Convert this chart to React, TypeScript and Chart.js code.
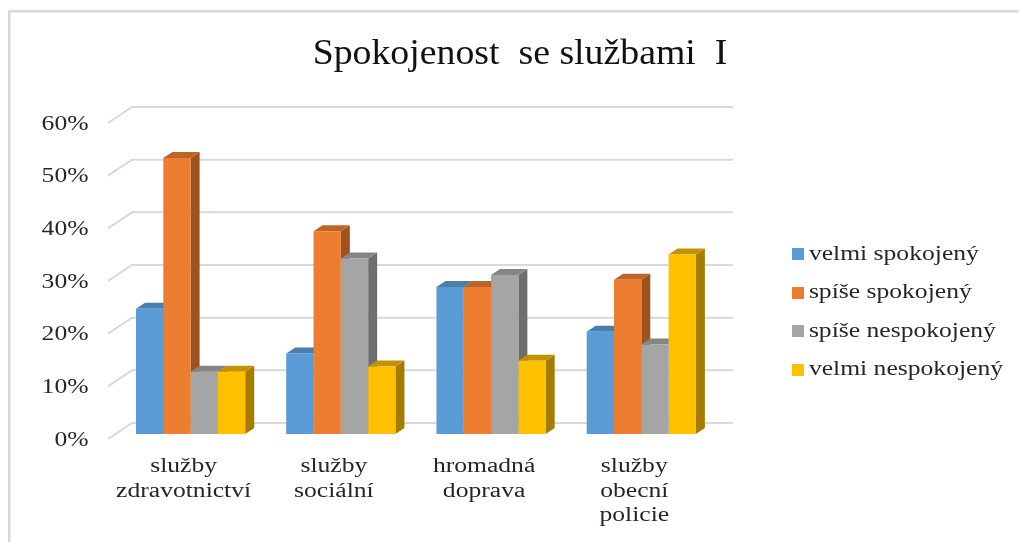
import React, { useEffect, useRef } from "react";
import { Chart, registerables } from "chart.js";

Chart.register(...registerables);

const categories = [
  ["služby", "zdravotnictví"],
  ["služby", "sociální"],
  ["hromadná", "doprava"],
  ["služby", "obecní", "policie"],
];
const seriesNames = ["velmi spokojený", "spíše spokojený", "spíše nespokojený", "velmi nespokojený"];
const velmiSpokojeny = [23.8, 15.3, 27.9, 19.4];
const spiseSpokojeny = [52.4, 38.5, 27.9, 29.3];
const spiseNespokojeny = [11.8, 33.3, 30.2, 17.0];
const velmiNespokojeny = [11.8, 12.8, 13.9, 34.1];
const seriesValues = [velmiSpokojeny, spiseSpokojeny, spiseNespokojeny, velmiNespokojeny];
const frontColors = ["#5B9BD5", "#ED7D31", "#A5A5A5", "#FFC000"];
const topColors = ["#4A7EAD", "#BF6427", "#858585", "#C49400"];
const sideColors = ["#41719C", "#9E531F", "#6E6E6E", "#A67C00"];
const FONT = '"Liberation Serif", "Times New Roman", serif';
const TEXT = "#262626";
const GRID = "#D9D9D9";

const swatch = (color: string) => {
  const c = document.createElement("canvas");
  c.width = 12;
  c.height = 12;
  const x = c.getContext("2d")!;
  x.fillStyle = color;
  x.fillRect(0, 0, 12, 12);
  return c;
};

// The reference's text is stretched sideways, so glyphs are widened around their anchor.
const stretchFor = (ctx: any) => (parseFloat(ctx.font) >= 30 ? 1.08 : 1.28);

const box3d = {
  id: "box3d",
  beforeInit(chart: any) {
    const ctx = chart.ctx;
    if (ctx.__stretched) return;
    ctx.__stretched = true;
    const fill = ctx.fillText.bind(ctx);
    const measure = ctx.measureText.bind(ctx);
    ctx.fillText = (t: string, x: number, y: number) => {
      const sx = stretchFor(ctx);
      ctx.save();
      ctx.translate(x, y);
      ctx.scale(sx, 1);
      fill(t, 0, 0);
      ctx.restore();
    };
    ctx.measureText = (t: string) => ({ width: measure(t).width * stretchFor(ctx) });
  },
  afterLayout(chart: any) {
    chart.legend.top += 41;
    chart.legend.bottom += 41;
  },
  beforeDraw(chart: any) {
    const { ctx, chartArea, scales } = chart;
    const y = scales.y;
    ctx.save();
    // frame of the picture
    ctx.fillStyle = GRID;
    ctx.fillRect(8, 10, 1011, 2.5);
    ctx.fillRect(8, 10, 2.5, 532);
    // walls: gridlines on the back plane with the diagonal floor-side stub
    ctx.strokeStyle = GRID;
    ctx.lineWidth = 2;
    ctx.beginPath();
    y.ticks.forEach((t: any) => {
      const py = y.getPixelForValue(t.value);
      ctx.moveTo(chartArea.left - 7.5, py + 5);
      ctx.lineTo(chartArea.left + 16.5, py - 11);
      ctx.lineTo(chartArea.right + 16.5, py - 11);
    });
    ctx.stroke();
    ctx.restore();
  },
  beforeDatasetsDraw(chart: any) {
    const { ctx } = chart;
    const dx = 9;
    const dy = 6;
    ctx.save();
    categories.forEach((_, i) => {
      seriesValues.forEach((__, d) => {
        const b = chart.getDatasetMeta(d).data[i];
        const half = b.width / 2;
        const l = b.x - half;
        const r = b.x + half;
        const t = b.y;
        const base = b.base;
        ctx.fillStyle = sideColors[d];
        ctx.beginPath();
        ctx.moveTo(r, base);
        ctx.lineTo(r + dx, base - dy);
        ctx.lineTo(r + dx, t - dy);
        ctx.lineTo(r, t);
        ctx.closePath();
        ctx.fill();
        ctx.fillStyle = topColors[d];
        ctx.beginPath();
        ctx.moveTo(l, t);
        ctx.lineTo(l + dx, t - dy);
        ctx.lineTo(r + dx, t - dy);
        ctx.lineTo(r, t);
        ctx.closePath();
        ctx.fill();
      });
    });
    ctx.restore();
  },
};

export default function App() {
  const ref = useRef<HTMLCanvasElement>(null);
  useEffect(() => {
    document.body.style.margin = "0";
    const chart = new Chart(ref.current!, {
      type: "bar",
      data: {
        labels: categories,
        datasets: seriesNames.map((label, i) => ({
          label,
          data: seriesValues[i],
          backgroundColor: frontColors[i],
          borderWidth: 0,
          categoryPercentage: 0.727,
          barPercentage: 1,
        })),
      },
      plugins: [box3d],
      options: {
        animation: false,
        responsive: false,
        layout: { padding: { left: 27, right: 6, top: 0, bottom: 0 } },
        plugins: {
          tooltip: { enabled: false },
          title: {
            display: true,
            text: "Spokojenost  se službami  I",
            color: "#111111",
            font: { family: FONT, size: 35, weight: "normal", lineHeight: 1.2 },
            padding: { top: 34, bottom: 4 },
          },
          legend: {
            position: "right",
            maxWidth: 240,
            labels: {
              color: TEXT,
              font: { family: FONT, size: 20 },
              padding: 18.5,
              usePointStyle: true,
              pointStyleWidth: 2,
              generateLabels: () =>
                seriesNames.map((text, i) => ({
                  text,
                  fillStyle: frontColors[i],
                  strokeStyle: frontColors[i],
                  fontColor: TEXT,
                  lineWidth: 0,
                  pointStyle: swatch(frontColors[i]),
                  datasetIndex: i,
                })),
            },
          },
        },
        scales: {
          x: {
            grid: { display: false, drawTicks: false },
            border: { display: false },
            afterFit: (s: any) => {
              s.height = 108;
            },
            ticks: {
              color: TEXT,
              maxRotation: 0,
              autoSkip: false,
              padding: 21,
              labelOffset: -7,
              font: { family: FONT, size: 20, lineHeight: 1.22 },
            },
          },
          y: {
            min: 0,
            max: 60,
            grid: { display: false, drawTicks: false },
            border: { display: false },
            afterFit: (s: any) => {
              s.width = 88.5;
            },
            ticks: {
              stepSize: 10,
              color: TEXT,
              padding: 27,
              labelOffset: 6.5,
              font: { family: FONT, size: 20 },
              callback: (v: any) => v + "%",
            },
          },
          topGap: {
            type: "linear",
            axis: "x",
            position: "top",
            display: true,
            grid: { display: false, drawTicks: false },
            border: { display: false },
            ticks: { display: false },
            afterFit: (s: any) => {
              s.height = 38;
            },
          },
          rightGap: {
            type: "linear",
            axis: "y",
            position: "right",
            display: true,
            grid: { display: false, drawTicks: false },
            border: { display: false },
            ticks: { display: false },
            afterFit: (s: any) => {
              s.width = 62;
            },
          },
        },
      } as any,
    });
    return () => chart.destroy();
  }, []);
  return (
    <div style={{ position: "fixed", left: 0, top: 0, width: 1019, height: 542, background: "#fff" }}>
      <canvas ref={ref} width={1019} height={542} style={{ display: "block", filter: "blur(0.4px)" }} />
    </div>
  );
}
